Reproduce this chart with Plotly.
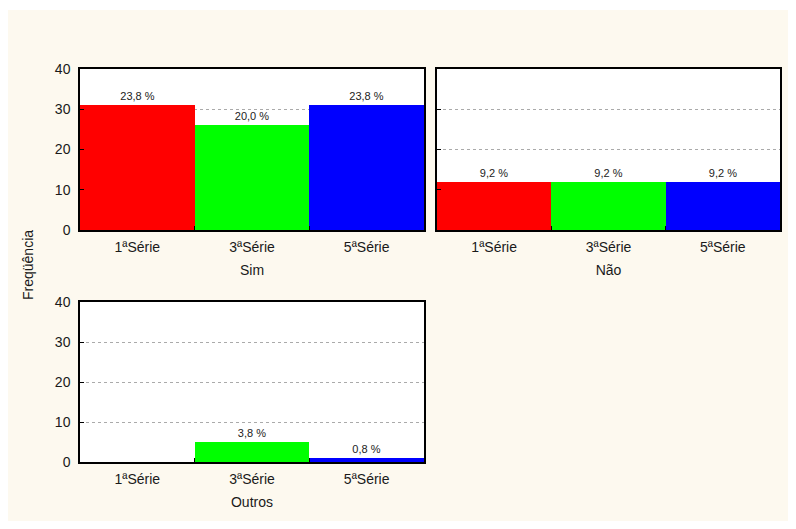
import plotly.graph_objects as go

# --- Données ---
series = ["1ªSérie", "3ªSérie", "5ªSérie"]
panels = ["Sim", "Não", "Outros"]
freq_sim = [31, 26, 31]
freq_nao = [12, 12, 12]
freq_outros = [0, 5, 1]
colors = ["#ff0000", "#00ff00", "#0000ff"]
y_ticks = [0, 10, 20, 30, 40]

# la page ajoute une marge de 8 px autour de la figure
OFF = 8
W, H = 796 - 2 * OFF, 529 - 2 * OFF
CREAM = "#fdf9ef"
total = sum(freq_sim) + sum(freq_nao) + sum(freq_outros)


def pct(v):
    return "" if v == 0 else f"{v / total * 100:.1f} %".replace(".", ",")


def px_x(a, b):
    return [(a - OFF) / W, (b - OFF) / W]


def px_y(top, bottom):
    return [1 - (bottom - OFF) / H, 1 - (top - OFF) / H]


# domaines (pixels de la capture) de chaque panneau
domains = [
    (px_x(80, 424), px_y(69, 230)),
    (px_x(437, 780), px_y(69, 230)),
    (px_x(80, 424), px_y(302, 462)),
]

fig = go.Figure()
font = dict(family="Liberation Sans, Arial, sans-serif", color="#1a1a1a")

for i, (name, vals) in enumerate(zip(panels, [freq_sim, freq_nao, freq_outros])):
    n = "" if i == 0 else str(i + 1)
    fig.add_trace(go.Bar(
        x=series, y=vals, xaxis="x" + n, yaxis="y" + n,
        marker=dict(color=colors, line=dict(width=0)),
        text=[pct(v) for v in vals], textposition="outside",
        textfont=dict(size=11, color="#222"), cliponaxis=False,
        showlegend=False, width=1,
    ))
    dx, dy = domains[i]
    fig.layout["xaxis" + n] = dict(
        domain=dx, anchor="y" + n, range=[-0.5, 2.5],
        ticks="inside", tickson="boundaries", ticklen=4, tickcolor="black",
        showline=True, linecolor="black", linewidth=1.5, mirror=True,
        showgrid=False, tickfont=dict(size=14), ticklabelstandoff=3,
        title=dict(text=name, font=dict(size=14), standoff=12),
        automargin=False,
    )
    fig.layout["yaxis" + n] = dict(
        domain=dy, anchor="x" + n, range=[0, 40], tickvals=y_ticks,
        ticks="inside", ticklen=4, tickcolor="black",
        showline=True, linecolor="black", linewidth=1.5, mirror=True,
        showgrid=True, gridcolor="#aaaaaa", griddash="dot", gridwidth=1,
        showticklabels=(i != 1), tickfont=dict(size=14), ticklabelstandoff=5,
        zeroline=False, automargin=False,
    )
    # petits repères en haut du cadre
    fig.layout["xaxis" + str(i + 4)] = dict(
        domain=dx, anchor="y" + n, overlaying="x" + n, side="top",
        range=[0, 4], dtick=1, ticks="inside", ticklen=4, tickcolor="black",
        showticklabels=False, showgrid=False, showline=False, zeroline=False,
        automargin=False,
    )

# bande blanche en haut
fig.add_shape(type="rect", xref="paper", yref="paper",
              x0=0, x1=1, y0=1 - 2 / H, y1=1,
              fillcolor="white", line=dict(width=0), layer="below")

fig.add_annotation(
    text="Freqüência", textangle=-90, xref="paper", yref="paper",
    x=(28 - OFF) / W, y=1 - (265 - OFF) / H, xanchor="center",
    yanchor="middle", showarrow=False, font=dict(size=14),
)

fig.update_layout(
    width=W, height=H,
    margin=dict(l=0, r=0, t=0, b=0, pad=0, autoexpand=False),
    paper_bgcolor=CREAM, plot_bgcolor="white",
    bargap=0, font=font,
)

fig.write_html("out.html")
